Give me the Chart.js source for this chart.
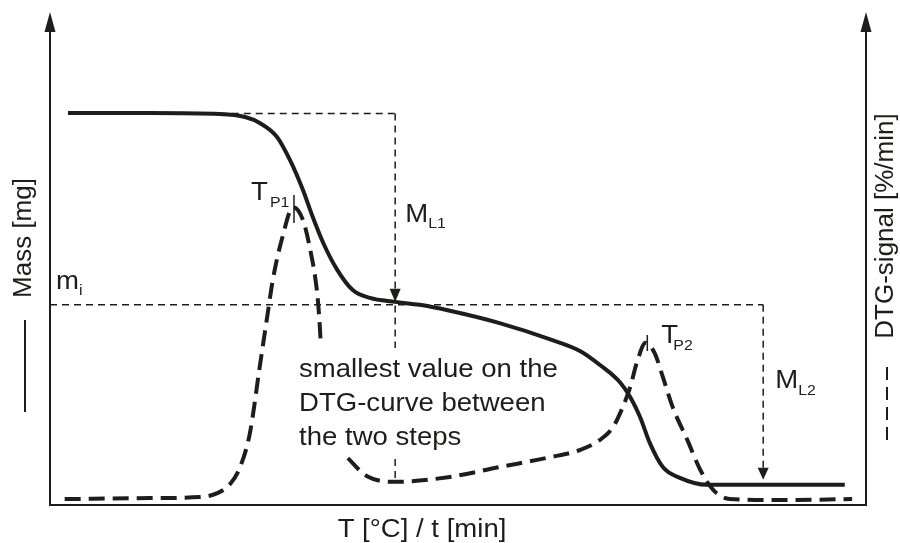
<!DOCTYPE html>
<html><head><meta charset="utf-8">
<script src="https://cdn.jsdelivr.net/npm/chart.js@4/dist/chart.umd.min.js"></script>
<style>html,body{margin:0;padding:0;background:#fff;}canvas{display:block;}</style>
</head><body>
<canvas id="c" width="900" height="543"></canvas>
<script>
// ---- data (schematic units, 0..100) ----
const massT = [2.2, 12.3, 20.8, 23.9, 25.7, 27.8, 29.4, 31.0, 32.2, 33.5, 35.2, 37.1, 39.2, 42.3, 45.3, 49.0, 55.1, 61.3, 65.0, 67.4, 69.9, 71.1, 72.3, 73.5, 75.1, 77.2, 80.5, 89.5, 97.4];
const massValues = [79.5, 79.5, 79.3, 78.7, 77.5, 74.7, 70.0, 63.9, 58.4, 53.1, 47.7, 43.6, 42.0, 41.2, 40.6, 39.4, 36.9, 33.6, 31.2, 28.4, 24.8, 21.9, 17.9, 12.6, 7.7, 5.5, 4.1, 4.1, 4.1];
const dtgT = [1.8, 12.3, 18.4, 20.5, 22.1, 23.3, 24.5, 25.7, 26.7, 27.3, 28.4, 29.8, 31.0, 31.9, 32.7, 33.0, 33.2, 35.0, 36.5, 38.8, 42.5, 49.0, 55.1, 61.3, 65.0, 67.4, 69.0, 70.2, 71.1, 71.9, 73.0, 74.1, 75.1, 76.3, 78.1, 79.7, 81.3, 83.3, 89.5, 98.3];
const dtgValues = [1.2, 1.4, 1.6, 2.4, 4.3, 7.7, 14.6, 28.0, 39.1, 45.6, 53.8, 60.4, 57.8, 51.7, 43.6, 37.9, 32.3, null, 9.5, 5.9, 4.7, 5.7, 7.7, 9.7, 11.2, 13.2, 15.8, 19.9, 23.9, 28.8, 32.9, 30.8, 26.0, 19.9, 13.2, 7.1, 3.0, 1.2, 1.0, 1.2];
const stepLevels = [79.4, 40.6, 4.1];   // initial mass, m_i, final mass
const stepStartT = 20.8;                // where the top guide line starts
const lossT = [42.3, 87.4];             // positions of M_L1 and M_L2 arrows
const peakT = [29.9, 73.2];             // T_P1, T_P2
const dtgMinBetween = 4.7;              // smallest DTG value between steps
const xTitle = "T [°C] / t [min]";
const yTitle = "Mass [mg]";
const y2Title = "DTG-signal [%/min]";
const noteLines = ["smallest value on the", "DTG-curve between", "the two steps"];

const INK = '#1d1d1b';
const FONT = '"Liberation Sans", Arial, Helvetica, sans-serif';

function txt(ctx, s, x, yb, size, align, sx) {
  ctx.save();
  ctx.font = size + 'px ' + FONT;
  ctx.fillStyle = INK;
  ctx.textBaseline = 'alphabetic';
  ctx.textAlign = align || 'left';
  ctx.translate(x, yb);
  ctx.scale(sx || 1.06, 1);
  ctx.fillText(s, 0, 0);
  ctx.restore();
}
function vtxt(ctx, s, cx, cy, size) {
  ctx.save();
  ctx.font = size + 'px ' + FONT;
  ctx.fillStyle = INK;
  ctx.textAlign = 'center';
  ctx.textBaseline = 'middle';
  ctx.translate(cx, cy);
  ctx.rotate(-Math.PI / 2);
  ctx.fillText(s, 0, 0);
  ctx.restore();
}
function line(ctx, x1, y1, x2, y2, w, dash) {
  ctx.save();
  ctx.strokeStyle = INK;
  ctx.lineWidth = w;
  ctx.setLineDash(dash || []);
  ctx.beginPath();
  ctx.moveTo(x1, y1);
  ctx.lineTo(x2, y2);
  ctx.stroke();
  ctx.restore();
}
function tri(ctx, tx, ty, h, hw, up) {
  ctx.save();
  ctx.fillStyle = INK;
  ctx.beginPath();
  ctx.moveTo(tx, ty);
  const by = up ? ty + h : ty - h;
  ctx.lineTo(tx - hw, by);
  ctx.lineTo(tx + hw, by);
  ctx.closePath();
  ctx.fill();
  ctx.restore();
}

const decor = {
  id: 'decor',
  afterDraw(chart) {
    const { ctx, chartArea: a, scales: { x, y, y2 } } = chart;
    // axes
    line(ctx, a.left, a.bottom, a.left, a.top + 12, 2);
    line(ctx, a.left - 1, a.bottom, a.right + 1, a.bottom, 2);
    line(ctx, a.right, a.bottom, a.right, a.top + 12, 2);
    tri(ctx, a.left, a.top, 20, 5.5, true);
    tri(ctx, a.right, a.top, 20, 5.5, true);

    // axis titles
    txt(ctx, xTitle, 422, 537, 26, 'center');
    vtxt(ctx, yTitle, 24, 238, 26);
    line(ctx, 25, 320, 25, 412, 2);
    vtxt(ctx, y2Title, 886, 226, 26);
    line(ctx, 887, 367, 887, 441, 2, [13, 7]);

    // guide lines
    const dash = [7, 5];
    const yTop = y.getPixelForValue(stepLevels[0]);
    const yMi = y.getPixelForValue(stepLevels[1]);
    const yEnd = y.getPixelForValue(stepLevels[2]);
    const xL1 = x.getPixelForValue(lossT[0]);
    const xL2 = x.getPixelForValue(lossT[1]);
    line(ctx, x.getPixelForValue(stepStartT), yTop, xL1, yTop, 1.5, dash);
    line(ctx, a.left, yMi, xL2, yMi, 1.5, dash);
    // M_L1 vertical
    const noteTop = 348, noteBottom = 459;
    line(ctx, xL1, yTop, xL1, noteTop, 1.5, dash);
    line(ctx, xL1, noteBottom, xL1, y2.getPixelForValue(dtgMinBetween), 1.5, dash);
    tri(ctx, xL1, yMi - 3, 13, 5.5, false);
    // M_L2 vertical
    line(ctx, xL2, yMi, xL2, yEnd - 8, 1.5, dash);
    tri(ctx, xL2, yEnd - 5, 12, 5.5, false);

    // peak ticks
    const p1 = x.getPixelForValue(peakT[0]);
    const p2 = x.getPixelForValue(peakT[1]);
    line(ctx, p1, 195, p1, 223, 1.5);
    line(ctx, p2, 335, p2, 351, 1.5);

    // labels
    txt(ctx, 'T', p1 - 43, 200, 26);
    txt(ctx, 'P1', p1 - 24, 207, 15);
    txt(ctx, 'T', p2 + 14, 343, 26);
    txt(ctx, 'P2', p2 + 26, 350, 15);
    txt(ctx, 'M', xL1 + 10, 222, 26);
    txt(ctx, 'L1', xL1 + 33, 228, 15);
    txt(ctx, 'M', xL2 + 12, 388, 26);
    txt(ctx, 'L2', xL2 + 35, 395, 15);
    txt(ctx, 'm', a.left + 6, 289, 26);
    txt(ctx, 'i', a.left + 29, 295, 15);

    // note
    noteLines.forEach((s, i) => txt(ctx, s, 299, 377 + i * 34, 26));
  }
};

new Chart(document.getElementById('c'), {
  type: 'line',
  data: {
    datasets: [
      {
        label: 'Mass',
        data: massT.map((t, i) => ({ x: t, y: massValues[i] })),
        yAxisID: 'y',
        borderColor: INK,
        borderWidth: 4,
        pointRadius: 0,
        fill: false,
        cubicInterpolationMode: 'monotone',
        borderJoinStyle: 'round'
      },
      {
        label: 'DTG',
        data: dtgT.map((t, i) => ({ x: t, y: dtgValues[i] })),
        yAxisID: 'y2',
        borderColor: INK,
        borderWidth: 4,
        borderDash: [16, 8],
        borderCapStyle: 'butt',
        pointRadius: 0,
        fill: false,
        spanGaps: false,
        cubicInterpolationMode: 'monotone'
      }
    ]
  },
  options: {
    responsive: false,
    animation: false,
    devicePixelRatio: 1,
    layout: { padding: { left: 50, right: 34, top: 12, bottom: 38 } },
    plugins: { legend: { display: false }, tooltip: { enabled: false } },
    scales: {
      x: { type: 'linear', min: 0, max: 100, display: false },
      y: { min: 0, max: 100, display: false },
      y2: { min: 0, max: 100, display: false, position: 'right' }
    }
  },
  plugins: [decor]
});
</script>
</body></html>
